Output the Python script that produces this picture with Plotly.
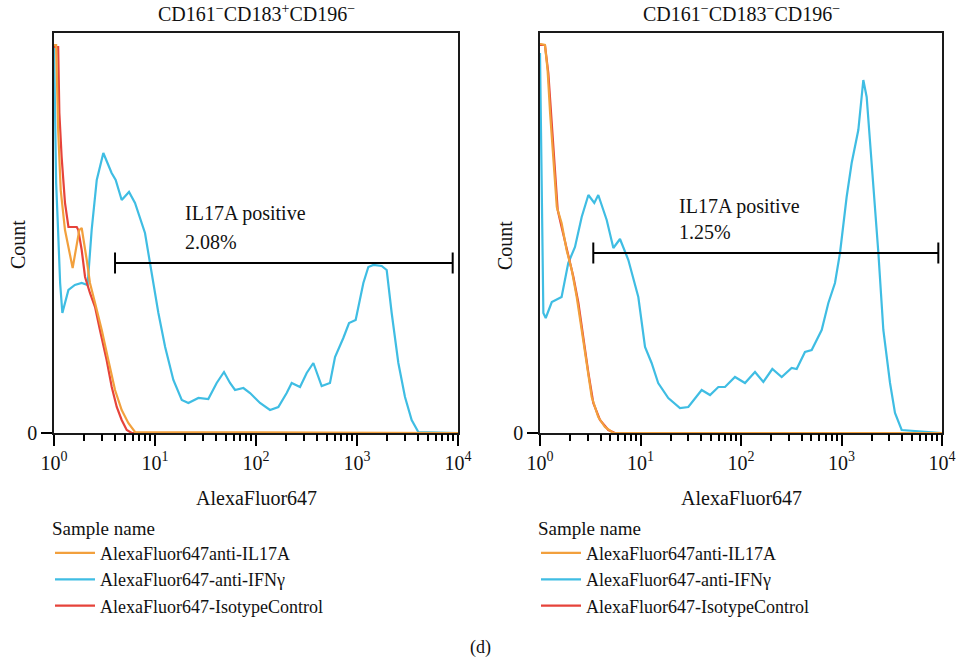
import math
import plotly.graph_objects as go

# ---------- data: CD161-CD183+CD196- ----------
left_orange_x = [1.0, 1.05, 1.10, 1.165, 1.285, 1.53, 1.78, 1.88, 2.11, 2.27, 2.55, 2.97, 3.45, 4.02, 4.68, 5.44, 6.34, 10000]
left_orange_y = [388, 388, 303, 243, 203, 165, 203, 205, 173, 150, 130, 103, 73, 43, 23, 10, 1, 0]

left_cyan_x = [1.0, 1.02, 1.05, 1.09, 1.15, 1.21, 1.39, 1.61, 1.88, 2.15, 2.36, 2.65, 3.08, 3.72, 4.08, 4.68,
               5.53, 6.34, 7.96, 8.92, 10.8, 12.6, 15.2, 18.4, 21.4, 26.9, 33.7, 40.8, 48.2, 55.3, 62.0,
               75.0, 87.3, 109.6, 137.6, 166.4, 201.3, 225.6, 272.8, 317.7, 369.8, 447, 540, 606, 732,
               834, 970, 1156, 1295, 1452, 1755, 1968, 2205, 2567, 2987, 3477, 4048, 10000]
left_cyan_y = [388, 310, 250, 210, 150, 120, 143, 148, 150, 148, 203, 253, 280, 260, 253, 233,
               241, 230, 200, 170, 120, 86, 53, 33, 30, 35, 34, 50, 61, 50, 43,
               45, 40, 30, 23, 26, 40, 50, 46, 60, 70, 47, 50, 76, 95,
               110, 113, 150, 166, 168, 167, 163, 120, 70, 36, 13, 1, 0]

left_red_x = [1.0, 1.10, 1.13, 1.19, 1.285, 1.39, 1.68, 1.74, 1.88, 2.03, 2.27, 2.55, 2.85, 3.32, 3.73, 4.18, 4.68, 5.25, 5.88, 10000]
left_red_y = [386, 386, 320, 276, 230, 206, 206, 203, 183, 156, 140, 126, 103, 73, 46, 26, 13, 3, 0, 0]

# ---------- data: CD161-CD183-CD196- ----------
right_orange_x = [1.0, 1.023, 1.12, 1.19, 1.26, 1.36, 1.47, 1.64, 1.84, 2.07, 2.32, 2.60, 2.91, 3.27, 3.80, 4.43, 5.37, 10000]
right_orange_y = [389, 389, 388, 363, 320, 270, 226, 210, 183, 163, 136, 103, 70, 36, 16, 6, 0, 0]

right_cyan_x = [1.0, 1.023, 1.05, 1.08, 1.14, 1.31, 1.64, 1.91, 2.23, 2.60, 3.03, 3.47, 3.80, 4.61, 5.37,
                6.25, 7.57, 9.51, 11.09, 12.9, 15.0, 18.9, 24.7, 29.9, 40.6, 49.2, 59.5, 69.3, 87.1,
                109.6, 137.8, 166.8, 205, 254, 319, 358, 433, 505, 635, 740, 861, 966, 1125, 1262,
                1470, 1649, 1780, 1996, 2328, 2608, 3040, 3406, 3970, 10000]
right_cyan_y = [380, 310, 200, 120, 115, 131, 136, 170, 186, 216, 238, 230, 238, 213, 185,
                194, 173, 136, 86, 70, 50, 35, 25, 26, 43, 38, 46, 46, 56,
                50, 61, 51, 64, 56, 65, 64, 81, 83, 103, 130, 150, 180, 236, 270,
                303, 353, 336, 270, 180, 103, 50, 20, 3, 0]

right_red_x = [1.0, 1.12, 1.21, 1.31, 1.41, 1.50, 1.64, 1.91, 2.15, 2.41, 2.70, 3.03, 3.39, 3.95, 4.79, 5.57, 10000]
right_red_y = [388, 388, 360, 310, 263, 223, 206, 176, 156, 130, 93, 60, 30, 13, 3, 0, 0]

# gate: IL17A positive
left_gate_x = [4.02, 8860]
left_gate_y = [170, 170]
left_gate_pct = "2.08%"
right_gate_x = [3.39, 9190]
right_gate_y = [180, 180]
right_gate_pct = "1.25%"

sample_names = ["AlexaFluor647anti-IL17A", "AlexaFluor647-anti-IFN\u03b3", "AlexaFluor647-IsotypeControl"]
colors = ["#F2A03D", "#3FBDE3", "#E6433A"]
panel_titles = ["CD161<sup>\u2212</sup>CD183<sup>+</sup>CD196<sup>\u2212</sup>",
                "CD161<sup>\u2212</sup>CD183<sup>\u2212</sup>CD196<sup>\u2212</sup>"]
x_tick_vals = [1, 10, 100, 1000, 10000]
x_tick_text = ["10<sup>0</sup>", "10<sup>1</sup>", "10<sup>2</sup>", "10<sup>3</sup>", "10<sup>4</sup>"]
x_minor_vals = [m * 10 ** d for d in range(4) for m in range(2, 10)]

FONT = "Liberation Serif"
FS = 20
W, H = 960, 662

fig = go.Figure()

panels = [
    dict(xa="x", ya="y", leg="legend",
         data=[(left_orange_x, left_orange_y), (left_cyan_x, left_cyan_y), (left_red_x, left_red_y)],
         gate=(left_gate_x, left_gate_y), pct=left_gate_pct),
    dict(xa="x2", ya="y2", leg="legend2",
         data=[(right_orange_x, right_orange_y), (right_cyan_x, right_cyan_y), (right_red_x, right_red_y)],
         gate=(right_gate_x, right_gate_y), pct=right_gate_pct),
]

# drawing order: cyan first, then red, orange on top
draw_order = [1, 2, 0]
for p in panels:
    for i in draw_order:
        xs, ys = p["data"][i]
        fig.add_trace(go.Scatter(
            x=xs, y=ys, mode="lines", name=sample_names[i],
            line=dict(color=colors[i], width=2.2),
            xaxis=p["xa"], yaxis=p["ya"], legend=p["leg"], legendrank=i + 1,
            showlegend=True, hoverinfo="skip"))
    gx, gy = p["gate"]
    fig.add_trace(go.Scatter(
        x=gx, y=gy, mode="lines+markers",
        line=dict(color="black", width=2),
        marker=dict(symbol="line-ns-open", size=15, line=dict(color="black", width=2)),
        xaxis=p["xa"], yaxis=p["ya"], showlegend=False, hoverinfo="skip"))

ydom = [(H - 433) / H, (H - 33) / H]
xdoms = [[54 / W, 458 / W], [540 / W, 942 / W]]

axis_common = dict(
    showline=True, linecolor="#1a1a1a", linewidth=1.6, mirror=True, automargin=False,
    showgrid=False, zeroline=False, ticks="outside", ticklen=11, tickwidth=2,
    tickcolor="black", tickfont=dict(family=FONT, size=FS, color="#111"),
)

for k, xd in enumerate(xdoms):
    sfx = "" if k == 0 else str(k + 1)
    fig.layout["xaxis" + sfx] = dict(
        axis_common, type="log", range=[0, 4], domain=xd, anchor="y" + sfx,
        tickmode="array", tickvals=x_tick_vals, ticktext=x_tick_text,
    )
    fig.layout["yaxis" + sfx] = dict(
        axis_common, range=[0, 400], domain=ydom, anchor="x" + sfx,
        tickmode="array", tickvals=[0], ticktext=["0"],
    )
    # companion axis carrying the shorter 2..9 ticks of each decade
    msfx = str(k + 3)
    fig.layout["xaxis" + msfx] = dict(
        type="log", range=[0, 4], domain=xd, anchor="y" + sfx, overlaying="x" + sfx,
        side="bottom", showline=False, showgrid=False, zeroline=False, automargin=False,
        tickmode="array", tickvals=x_minor_vals, ticktext=[""] * len(x_minor_vals),
        ticks="outside", ticklen=7, tickwidth=1.8, tickcolor="black", showticklabels=False,
    )

# a trace on each companion axis so it gets drawn
for k in range(2):
    sfx = "" if k == 0 else str(k + 1)
    fig.add_trace(go.Scatter(x=[1], y=[0], mode="markers", marker=dict(opacity=0),
                             xaxis="x" + str(k + 3), yaxis="y" + sfx, showlegend=False, hoverinfo="skip"))

annotations = []
centers = [256, 741]
count_x = [18, 505]
gate_text_x = [19.1, 22.9]
gate_text_y = [(220, 191), (227, 201)]
for k in range(2):
    base = dict(xref="paper", yref="paper", showarrow=False, xanchor="center", yanchor="middle",
                font=dict(family=FONT, size=FS, color="#111"))
    annotations.append(dict(base, text=panel_titles[k], x=centers[k] / W, y=(H - 13) / H))
    annotations.append(dict(base, text="AlexaFluor647", x=centers[k] / W, y=(H - 498) / H))
    annotations.append(dict(base, text="Count", x=count_x[k] / W, y=(H - 245) / H, textangle=-90))
    sfx = "" if k == 0 else str(k + 1)
    gx = math.log10(gate_text_x[k])
    annotations.append(dict(text="IL17A positive", x=gx, y=gate_text_y[k][0],
                            xref="x" + sfx, yref="y" + sfx, xanchor="left", yanchor="middle",
                            showarrow=False, font=dict(family=FONT, size=FS, color="#111")))
    annotations.append(dict(text=panels[k]["pct"], x=gx, y=gate_text_y[k][1],
                            xref="x" + sfx, yref="y" + sfx, xanchor="left", yanchor="middle",
                            showarrow=False, font=dict(family=FONT, size=FS, color="#111")))
annotations.append(dict(text="(d)", x=480 / W, y=(H - 647) / H, xref="paper", yref="paper",
                        xanchor="center", yanchor="middle",
                        showarrow=False, font=dict(family=FONT, size=18, color="#111")))

LFS = 18
legend_common = dict(
    title=dict(text="Sample name", font=dict(family=FONT, size=LFS + 1, color="#111")),
    font=dict(family=FONT, size=LFS, color="#111"),
    bgcolor="rgba(0,0,0,0)", borderwidth=0, itemwidth=40,
    xanchor="left", yanchor="top", traceorder="normal", itemclick=False, itemdoubleclick=False,
    tracegroupgap=0,
)

fig.update_layout(
    width=W, height=H, margin=dict(l=0, r=0, t=0, b=0, autoexpand=False),
    paper_bgcolor="white", plot_bgcolor="white",
    annotations=annotations,
    legend=dict(legend_common, x=50 / W, y=(H - 510) / H),
    legend2=dict(legend_common, x=536 / W, y=(H - 510) / H),
    showlegend=True,
)

fig.write_html("out.html")
